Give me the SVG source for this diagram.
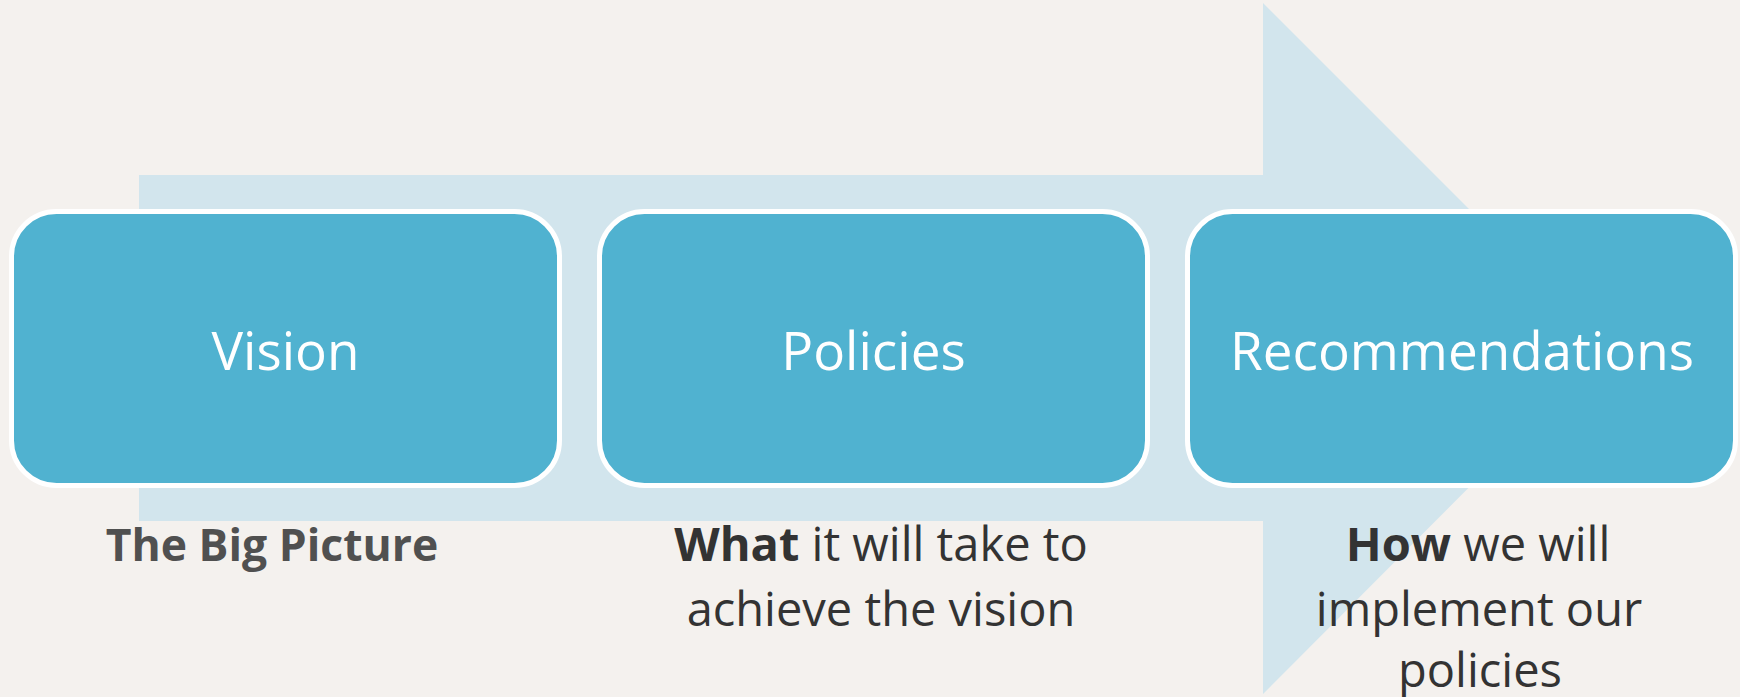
<svg xmlns="http://www.w3.org/2000/svg" width="1740" height="697" viewBox="0 0 1740 697">
<style>
.box{fill:#50B2D0;stroke:#FFFFFF;stroke-width:5}
.title{font-family:"Open Sans","Liberation Sans",sans-serif;font-size:53px;fill:#FFFFFF;text-anchor:middle}
.sub{font-family:"Open Sans","Liberation Sans",sans-serif;font-size:47px;fill:#333333;text-anchor:middle}
.b{font-weight:bold}
.big{font-size:44.5px;fill:#505050}
</style>
<rect width="1740" height="697" fill="#F4F1EE"/>
<g id="connectors">
<polygon points="139,175 1263,175 1263,3 1608,348 1263,694 1263,521 139,521" fill="#D2E5ED"/>
</g>
<g id="vision">
<rect class="box" x="11.5" y="211.5" width="548" height="274" rx="45" ry="45"/>
<text class="title" x="285.5" y="370">Vision</text>
<text class="sub b big" x="272" y="561">The Big Picture</text>
</g>
<g id="policies">
<rect class="box" x="599.5" y="211.5" width="548" height="274" rx="45" ry="45"/>
<text class="title" x="873.5" y="370">Policies</text>
<text class="sub" x="881" y="561"><tspan class="b">What</tspan> it will take to</text>
<text class="sub" x="881" y="626">achieve the vision</text>
</g>
<g id="recommendations">
<rect class="box" x="1187.5" y="211.5" width="548" height="274" rx="45" ry="45"/>
<text class="title" x="1462" y="370">Recommendations</text>
<text class="sub" x="1478" y="561"><tspan class="b">How</tspan> we will</text>
<text class="sub" x="1479" y="626">implement our</text>
<text class="sub" x="1480" y="687">policies</text>
</g>
</svg>
